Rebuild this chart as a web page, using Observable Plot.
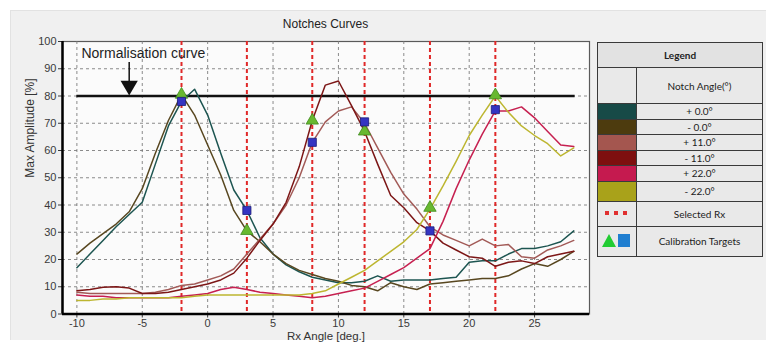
<!DOCTYPE html>
<html><head><meta charset="utf-8">
<script src="https://cdn.jsdelivr.net/npm/d3@7"></script>
<script src="https://cdn.jsdelivr.net/npm/@observablehq/plot@0.6"></script>
<style>
body{margin:0;background:#fff;}
#wrap{position:relative;width:766px;height:345px;overflow:hidden;font-family:"Liberation Sans",Arial,sans-serif;}
#panel{position:absolute;left:10px;top:10px;width:756px;height:330px;background:#f0f0f0;border-left:1px solid #e2e2e2;border-top:1px solid #e2e2e2;box-sizing:border-box;}
#title{position:absolute;left:62px;width:527px;top:17px;text-align:center;font-size:12px;color:#222;}
#chart{position:absolute;left:0;top:0;}
#legend{position:absolute;left:597px;top:42px;border-collapse:collapse;width:166px;font-family:Lato,"Liberation Sans",sans-serif;font-size:10px;color:#222;}
#legend td{border:1.5px solid #3a3a3a;padding:0;text-align:center;background:#e9e9e9;}
</style></head>
<body><div id="wrap"><div id="panel"></div><div id="title">Notches Curves</div><div id="chart"></div><table id="legend"></table></div>
<script>
// ---- data ----
const angles = [-10,-9,-8,-7,-6,-5,-4,-3,-2,-1,0,1,2,3,4,5,6,7,8,9,10,11,12,13,14,15,16,17,18,19,20,21,22,23,24,25,26,27,28];
const seriesNames = ["+ 0.0°","- 0.0°","+ 11.0°","- 11.0°","+ 22.0°","- 22.0°"];
const plus0  = [17,22,27,32,36.5,41,55,69,78,82.5,73,59,45.5,38,28,22,18,15.5,13.5,12.5,11.5,11.5,12,14,12,12.5,12.5,12.5,13,13.5,19,19.5,19.5,22,24,24,25,26.5,30.5];
const minus0 = [22,26,29.5,33,37.5,46,59,71,80.5,73,62,51,38,30.5,26.5,22,18.5,16,14.5,13,12,10.5,10,8.5,11.5,10,9,11,11.5,12,12.5,13,13,14,16.5,18.5,17.5,20,23];
const plus11 = [8,7.5,7.5,7.5,7.5,7.5,8,9,10.5,11,12.5,14,16.5,22,27.5,33,40,50,63,70.5,74.5,76,70,61,52,44,38.5,32,29,27,25,27.5,25,25.5,21,20.5,23.5,25,27];
const minus11= [8.5,9,9.8,10,9.5,7.5,7.5,8,9,10,11,12.5,15,20.5,27,33,41,54,71,84,85.5,76.5,67,55,43.5,39,33.5,30.5,26,23.5,21,20.5,17.5,19,19.5,18.5,21,22,23];
const plus22 = [7,6.5,6.5,6,6,6,6,6,6.5,7,7.5,9,9.8,9,8,7.5,7,6.5,6,6.5,7.5,8.5,9.5,12,14.5,17,20.5,24,34,46,56.5,66,74.5,74.5,76,72,67,62,61.5];
const minus22= [5,5,5.5,5.5,6,6,6,6,6,6.5,7,7,7,7,7,7,7,7,7.5,8.5,11,13.5,16,19.5,23,26.5,31,38.5,47,56,65.5,73,80,74,69,65.5,62.5,58,61];
const seriesValues = [plus0, minus0, plus11, minus11, plus22, minus22];
const selectedRx = [-2,3,8,12,17,22];
const squareTargets = [78,38,63,70.5,30.5,75];
const triangleTargets = [80.5,30.5,71,67,39,80.3];
const normLevel = 80, normFrom = -10, normTo = 28.1;
const normLabel = "Normalisation curve";
const arrowAt = -6, arrowTop = 92.5, arrowHead = 83.8;
const xTicks = [-10,-5,0,5,10,15,20,25];
const yTicks = [0,10,20,30,40,50,60,70,80,90,100];
const xLabel = "Rx Angle [deg.]", yLabel = "Max Amplitude [%]";
const lineColors   = ["#1d5551","#584720","#a25a57","#7c1616","#c62050","#bdb630"];
const legendColors = ["#174a47","#4d3b0e","#a4564f","#7e0f0f","#c51a4f","#a9a21a"];

// ---- tables ----
const rows = [];
seriesNames.forEach((s, i) => seriesValues[i].forEach((v, j) => rows.push({series: s, x: angles[j], y: v})));
const squares = selectedRx.map((x, i) => ({x, y: squareTargets[i]}));
const triangles = selectedRx.map((x, i) => ({x, y: triangleTargets[i]}));
const xDom = [-11.1, 29.2];

const chart = Plot.plot({
  width: 600, height: 345,
  marginLeft: 62, marginRight: 11, marginTop: 41, marginBottom: 31.5,
  x: {domain: xDom, ticks: xTicks, tickSize: 4, tickPadding: 1, tickFormat: d => String(d), label: null},
  y: {domain: [0, 100], ticks: yTicks, tickSize: 4, tickPadding: 2, tickFormat: d => String(d), label: null},
  color: {domain: seriesNames, range: lineColors},
  style: {background: "transparent", fontFamily: "Liberation Sans, Arial, sans-serif", fontSize: "11px", color: "#3a3a3a"},
  marks: [
    Plot.frame({fill: "#fbfbfb", stroke: "#5a5a5a", strokeWidth: 1.2}),
    Plot.gridX(xTicks, {stroke: "#777", strokeOpacity: 0.85, strokeDasharray: "3,3"}),
    Plot.gridY(yTicks.slice(1, -1), {stroke: "#777", strokeOpacity: 0.85, strokeDasharray: "3,3"}),
    Plot.ruleX(selectedRx, {stroke: "#e02828", strokeWidth: 2, strokeDasharray: "4,3"}),
    Plot.ruleY([normLevel], {x1: normFrom, x2: normTo, stroke: "#111", strokeWidth: 2.5}),
    Plot.line(rows, {x: "x", y: "y", z: "series", stroke: "series", strokeWidth: 1.5}),
    Plot.dot(triangles, {x: "x", y: "y", symbol: "triangle", r: 4.6, fill: "#68b830", stroke: "#3f8a1e", strokeWidth: 0.8}),
    Plot.dot(squares, {x: "x", y: "y", symbol: "square", r: 4.6, fill: "#3434c2", stroke: "#1c1c78", strokeWidth: 0.8}),
    Plot.link([arrowAt], {x1: d => d, x2: d => d, y1: arrowTop, y2: arrowHead, stroke: "#111", strokeWidth: 1.5}),
    Plot.dot([arrowAt], {x: d => d, y: arrowHead, symbol: "triangle", rotate: 180, r: 6.4, fill: "#111", stroke: "none"}),
    Plot.text([normLabel], {x: normFrom + 0.35, y: 95.5, text: d => d, textAnchor: "start", fontSize: 14, fill: "#222"}),
    Plot.ruleY([0], {stroke: "#000", strokeWidth: 2.5}),
    Plot.ruleX([xDom[0]], {stroke: "#000", strokeWidth: 2.5}),
    Plot.text([xLabel], {frameAnchor: "bottom", dy: 26, text: d => d, fontSize: 11.5, fill: "#333"}),
    Plot.text([yLabel], {frameAnchor: "left", dx: -32, rotate: -90, text: d => d, fontSize: 12, fill: "#333"})
  ]
});
document.getElementById("chart").appendChild(chart);

// ---- legend ----
const lg = d3.select("#legend");
lg.append("tr").append("td").attr("colspan", 2).style("height", "24px").style("font-weight", "bold").style("background", "#e2e2e2").text("Legend");
const r2 = lg.append("tr");
r2.append("td").style("width", "38px").style("height", "35px");
r2.append("td").text("Notch Angle(°)");
seriesNames.forEach((s, i) => {
  const tr = lg.append("tr");
  tr.append("td").style("background", legendColors[i]).style("height", i === 5 ? "19px" : "14.5px");
  tr.append("td").text(s);
});
const r9 = lg.append("tr");
r9.append("td").style("height", "24px").html('<svg width="30" height="10"><rect x="3" y="3" width="4" height="4" fill="#e03030"/><rect x="12" y="3" width="4" height="4" fill="#e03030"/><rect x="21" y="3" width="4" height="4" fill="#e03030"/></svg>');
r9.append("td").text("Selected Rx");
const r10 = lg.append("tr");
r10.append("td").style("height", "29px").html('<svg width="34" height="16"><polygon points="2,15 9,2 16,15" fill="#22cc33"/><rect x="18" y="2" width="12" height="13" fill="#1f7ed0"/></svg>');
r10.append("td").text("Calibration Targets");
</script>
</body></html>
